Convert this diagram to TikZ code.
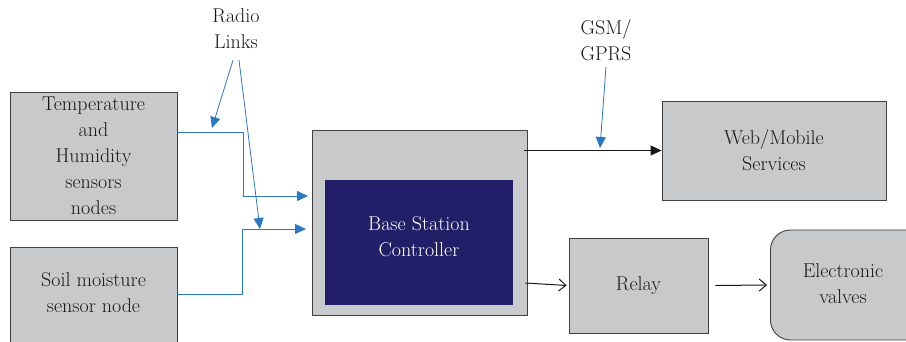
\documentclass[tikz,border=0pt]{standalone}
\usetikzlibrary{arrows.meta}
\definecolor{boxgray}{HTML}{C8C9CB}
\definecolor{bsnavy}{HTML}{221E67}
\definecolor{linkblue}{HTML}{2A78C4}
\definecolor{ink}{HTML}{1A1718}
\tikzset{
  blk/.style={draw=black!75, line width=0.9pt, fill=boxgray, align=center,
    inner sep=0pt, text=ink, font=\fontsize{20}{26}\selectfont},
  txt/.style={align=center, inner sep=0pt, text=ink, font=\fontsize{20}{26}\selectfont},
  radio/.style={linkblue, line width=0.8pt, -{Triangle[length=11pt,width=10pt]}},
  sig/.style={ink, line width=1.1pt, -{Triangle[length=11pt,width=10pt]}},
  act/.style={ink, line width=1pt, -{Straight Barb[length=7pt,width=12pt]}}
}

\begin{document}
\begin{tikzpicture}[x=1pt,y=-1pt]
  \useasboundingbox (0,0) rectangle (906,342);
  \clip (0,0) rectangle (906,342);

  % sensor nodes
  \node[blk, minimum width=167, minimum height=128] (temp) at (93.5,156)
    {Temperature\\and\\Humidity\\sensors\\nodes};
  \node[blk, minimum width=167, minimum height=120, anchor=north] (soil) at (93.5,247) {};
  \node[txt] (soiltxt) at (93.5,293) {Soil moisture\\sensor node};

  % base station
  \node[blk, minimum width=215, minimum height=185] (bs) at (419.5,222.5) {};
  \node[blk, draw=none, fill=bsnavy, minimum width=188, minimum height=125] (bsc) at (419,242.5) {};
  \node[txt, text=white] (bsctxt) at (419,237) {Base Station\\Controller};

  % outputs
  \node[blk, minimum width=224, minimum height=99] (web) at (774,150.5) {Web/Mobile\\Services};
  \node[blk, minimum width=139, minimum height=95] (relay) at (638.5,285.5) {Relay};
  \node[blk, minimum width=170, minimum height=110, rounded corners=20pt, anchor=west]
    (valves) at (770,285) {};
  \node[txt] (valvestxt) at (843,284) {Electronic\\valves};

  % labels
  \node[txt] (radio) at (236,29) {Radio\\Links};
  \node[txt] (gsm) at (606,40) {GSM/\\GPRS};

  \coordinate (in1) at (308,196);
  \coordinate (in2) at (306,229);
  \coordinate (rl1) at (212,128);
  \coordinate (rl2) at (260,229);
  \coordinate (gp) at (600,148);

  % radio links
  \draw[radio] (temp.east |- 0,132) -- (243,132) |- (in1);
  \draw[radio] (soil.east |- 0,294) -- (242,294) |- (in2);
  \draw[radio] ([xshift=-3pt,yshift=-11pt]radio.south) -- (rl1);
  \draw[radio] ([xshift=3pt,yshift=-11pt]radio.south) -- (rl2);
  \draw[radio] ([yshift=-6pt]gsm.south) -- (gp);

  % outputs
  \draw[sig] ([xshift=-3pt]bs.east |- web.west) -- (web.west);
  \draw[act] ([xshift=-2pt]bs.east |- 0,283) -- ([xshift=-2pt]relay.west);
  \draw[act] ([xshift=7pt]relay.east) -- ([xshift=-3pt]valves.west);
\end{tikzpicture}
\end{document}
